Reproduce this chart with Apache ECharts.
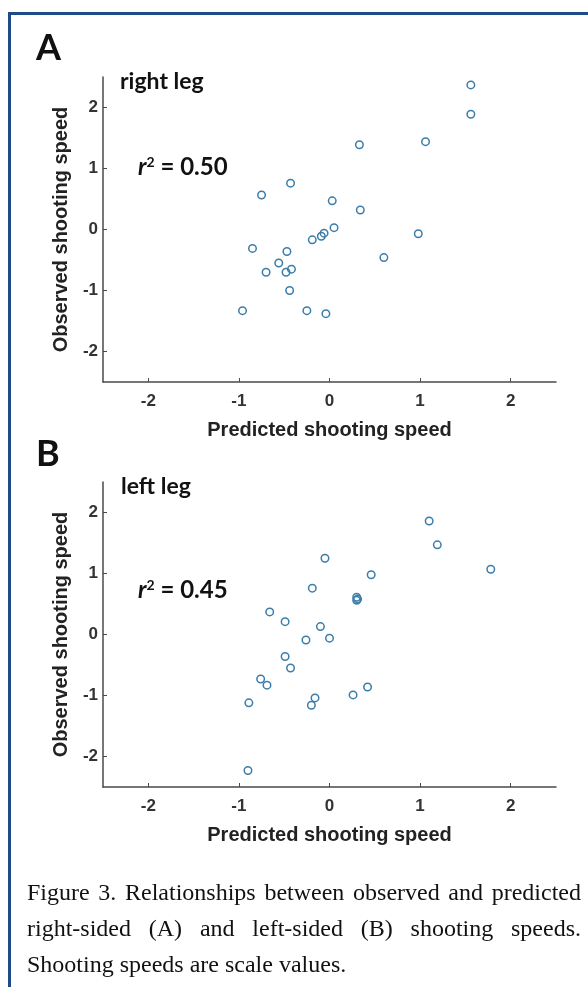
<!DOCTYPE html>
<html>
<head>
<meta charset="utf-8">
<script src="https://cdn.jsdelivr.net/npm/echarts@6/dist/echarts.min.js"></script>
<style>
    html, body { margin: 0; padding: 0; background: #fff; }
    #wrap { position: relative; width: 588px; height: 987px; overflow: hidden; }
    #chart { position: absolute; left: 0; top: 0; width: 588px; height: 987px; }
    #frameTop { position: absolute; left: 8px; top: 12px; width: 580px; height: 3px; background: #1f4b87; }
    #frameLeft { position: absolute; left: 8px; top: 12px; width: 3px; height: 975px; background: #1f4b87; }
    #caption {
        position: absolute; left: 27px; top: 874px; width: 554px;
        font-family: "Liberation Serif", "DejaVu Serif", serif;
        font-size: 24px; line-height: 36px; color: #111;
        text-align: justify;
    }
</style>
</head>
<body>
<div id="wrap">
    <div id="chart"></div>
    <div id="frameTop"></div>
    <div id="frameLeft"></div>
    <div id="caption">Figure 3. Relationships between observed and predicted right&#8209;sided (A) and left&#8209;sided (B) shooting speeds. Shooting speeds are scale values.</div>
</div>
<script>
    // 刻度
    var tickValues = [-2, -1, 0, 1, 2];

    // A 右腿：预测值 / 观测值
    var rightPredicted = [1.56, 1.56, 0.33, 1.06, -0.43, -0.75, 0.03, 0.34, 0.05, -0.06, -0.09, -0.19,
        0.98, -0.85, -0.47, -0.56, -0.70, -0.48, -0.42, 0.60, -0.44, -0.96, -0.25, -0.04];
    var rightObserved = [2.37, 1.89, 1.39, 1.44, 0.76, 0.565, 0.47, 0.32, 0.03, -0.06, -0.11, -0.17,
        -0.07, -0.31, -0.36, -0.55, -0.70, -0.70, -0.65, -0.46, -1.00, -1.33, -1.33, -1.38];

    // B 左腿：预测值 / 观测值
    var leftPredicted = [1.10, 1.19, -0.05, 0.46, -0.19, 0.30, 0.30, -0.66, -0.49, -0.10, 0.00, -0.26,
        -0.49, -0.43, -0.76, -0.69, -0.89, -0.16, -0.20, 0.26, 0.42, -0.90, 1.78, 0.31];
    var leftObserved = [1.86, 1.47, 1.25, 0.98, 0.76, 0.61, 0.56, 0.37, 0.21, 0.13, -0.06, -0.09,
        -0.36, -0.55, -0.73, -0.83, -1.12, -1.04, -1.16, -0.99, -0.86, -2.23, 1.07, 0.58];

    function pairs(xs, ys) {
        var out = [];
        for (var i = 0; i < xs.length; i++) {
            out.push([xs[i], ys[i]]);
        }
        return out;
    }

    var axisFont = 'Liberation Sans';
    var lineColor = '#4a4a4a';
    var dotColor = '#3a7dab';

    function makeX(gridIndex) {
        return {
            type: 'value', gridIndex: gridIndex, min: -2.5, max: 2.5,
            name: 'Predicted shooting speed', nameLocation: 'middle', nameGap: 38,
            nameTextStyle: { fontFamily: axisFont, fontWeight: 'bold', fontSize: 20, color: '#222' },
            axisLine: { onZero: false, lineStyle: { color: lineColor, width: 1.5 } },
            axisTick: { inside: true, length: 4, customValues: tickValues, lineStyle: { color: lineColor } },
            axisLabel: { customValues: tickValues, margin: 11, fontFamily: axisFont, fontWeight: 'bold', fontSize: 17, color: '#333' },
            splitLine: { show: false }
        };
    }

    function makeY(gridIndex) {
        return {
            type: 'value', gridIndex: gridIndex, min: -2.5, max: 2.5,
            name: 'Observed shooting speed', nameLocation: 'middle', nameGap: 29, nameRotate: 90,
            nameTextStyle: { fontFamily: axisFont, fontWeight: 'bold', fontSize: 20, color: '#222' },
            axisLine: { onZero: false, lineStyle: { color: lineColor, width: 1.5 } },
            axisTick: { inside: true, length: 4, customValues: tickValues, lineStyle: { color: lineColor } },
            axisLabel: { customValues: tickValues, margin: 5, fontFamily: axisFont, fontWeight: 'bold', fontSize: 17, color: '#333' },
            splitLine: { show: false }
        };
    }

    function makeSeries(idx, data) {
        return {
            type: 'scatter', xAxisIndex: idx, yAxisIndex: idx,
            symbol: 'circle', symbolSize: 7.5,
            itemStyle: { color: 'rgba(0,0,0,0)', borderColor: dotColor, borderWidth: 1.5, opacity: 1 },
            data: data
        };
    }

    function label(text, x, y, size) {
        return {
            type: 'text', left: x, top: y,
            style: { text: text, fontFamily: 'Lato', fontWeight: 'bold', fontSize: size, fill: '#111' }
        };
    }

    function rLabel(value, x, y) {
        return {
            type: 'text', left: x, top: y,
            style: {
                text: '{r|r}{s|2}{n| = ' + value + '}',
                rich: {
                    r: { fontFamily: 'Lato', fontStyle: 'italic', fontWeight: 'bold', fontSize: 24, fill: '#111' },
                    s: { fontFamily: 'Lato', fontWeight: 'bold', fontSize: 14, fill: '#111', verticalAlign: 'top', padding: [0, 0, 9, 0] },
                    n: { fontFamily: 'Lato', fontWeight: 'bold', fontSize: 24, fill: '#111' }
                }
            }
        };
    }

    var myChart = echarts.init(document.getElementById('chart'), null, { renderer: 'canvas' });
    var option = {
        animation: false,
        backgroundColor: '#fff',
        grid: [
            { left: 103, top: 77, width: 453, height: 305 },
            { left: 103, top: 482, width: 453, height: 305 }
        ],
        xAxis: [makeX(0), makeX(1)],
        yAxis: [makeY(0), makeY(1)],
        series: [
            makeSeries(0, pairs(rightPredicted, rightObserved)),
            makeSeries(1, pairs(leftPredicted, leftObserved))
        ],
        graphic: [
            label('A', 36, 30, 36),
            label('right leg', 120, 70, 23),
            rLabel('0.50', 138, 155),
            label('B', 36, 436, 36),
            label('left leg', 121, 475, 23),
            rLabel('0.45', 138, 578)
        ]
    };
    myChart.setOption(option);
</script>
</body>
</html>
